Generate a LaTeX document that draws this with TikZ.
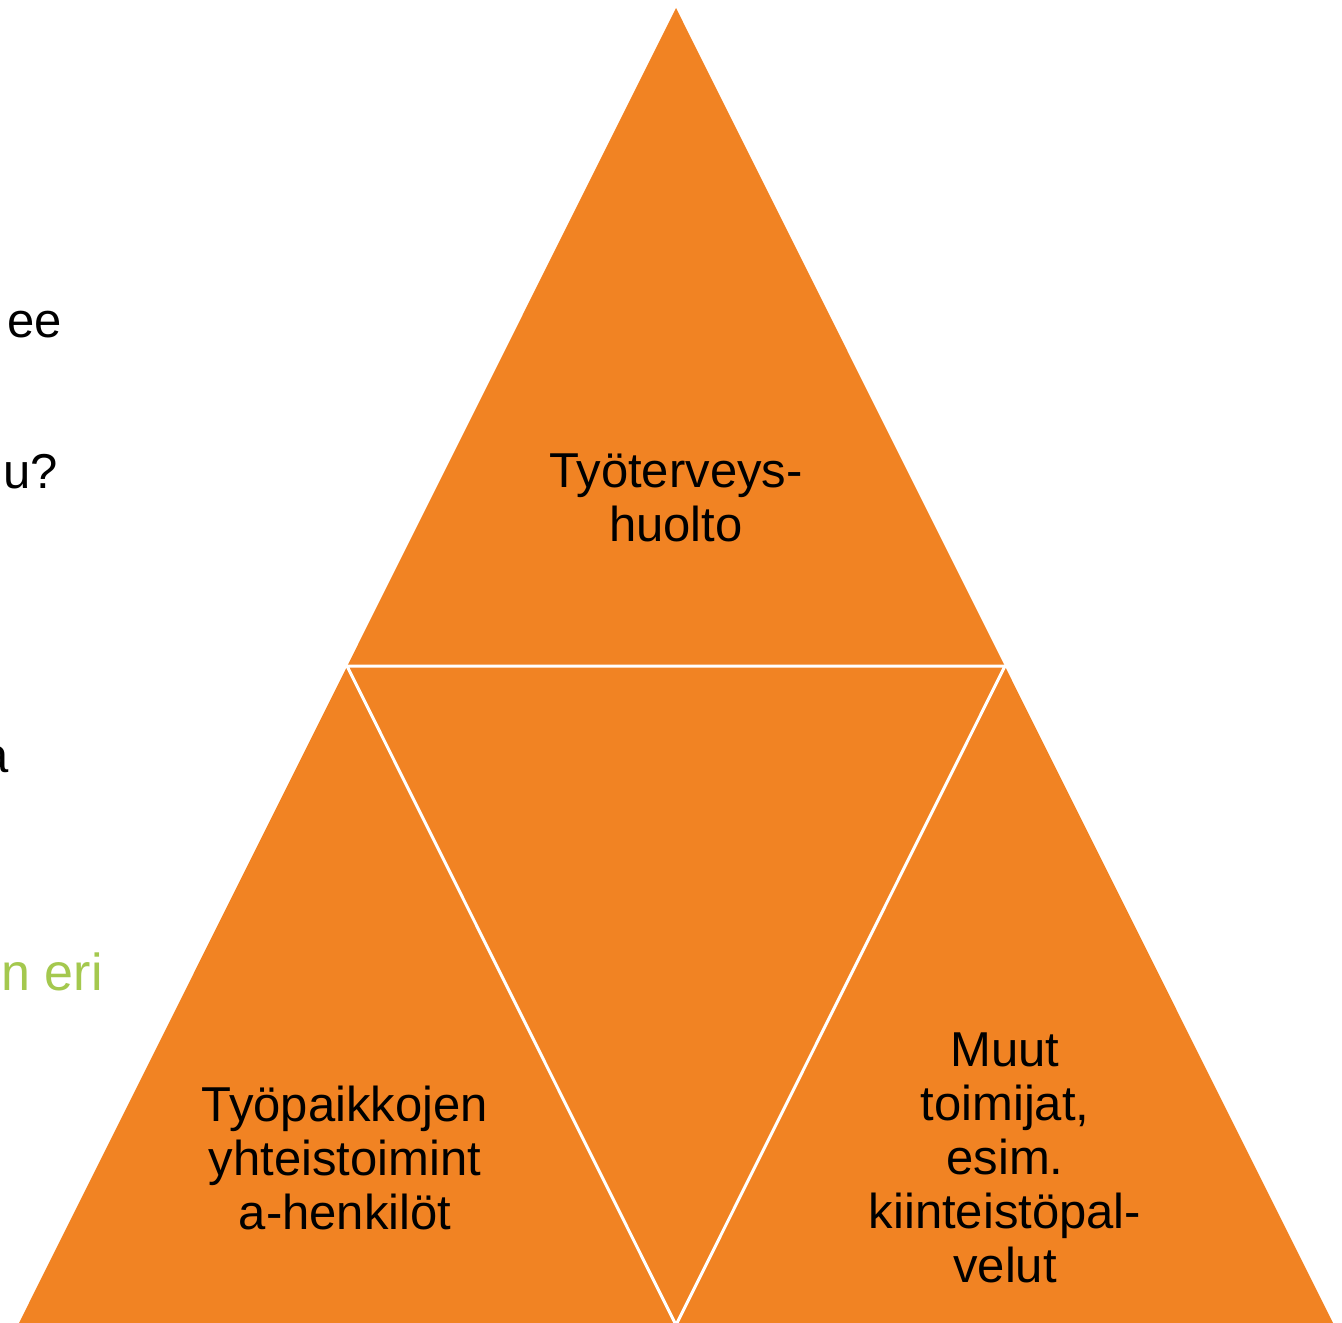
\documentclass[tikz,border=0pt]{standalone}
\usepackage{fontspec}
\setmainfont{Liberation Sans}
\definecolor{orng}{HTML}{F18323}
\definecolor{grn}{HTML}{A4C84E}
\begin{document}
\begin{tikzpicture}[x=1pt,y=-1pt,
  tri/.style={fill=orng},
  sep/.style={draw=white,line width=3pt,line join=miter},
  lbl/.style={align=center,font=\fontsize{49}{54}\selectfont,text=black,inner sep=0pt},
  side/.style={font=\fontsize{49}{54}\selectfont,inner sep=0pt,anchor=base east}]
\useasboundingbox (0,0) rectangle (1342,1323);
\clip (0,0) rectangle (1342,1323);
\coordinate (A) at (676,8);
\coordinate (L) at (347,666);
\coordinate (R) at (1005,666);
\coordinate (BL) at (18,1325);
\coordinate (BM) at (676,1325);
\coordinate (BR) at (1334,1325);
\fill[tri] (A) -- (BL) -- (BR) -- cycle;
\draw[sep] (L) -- (R) -- (BM) -- cycle;
\node[lbl] (top) at (676,498) {Työterveys-\\huolto};
\node[lbl] (left) at (345,1158) {Työpaikkojen\\yhteistoimint\\a-henkilöt};
\node[lbl] (right) at (1005,1158) {Muut\\toimijat,\\esim.\\kiinteistöpal-\\velut};
\node[side] (s1) at (62,337) {ee};
\node[side] (s2) at (58,488) {u?};
\node[side] (s3) at (9,772) {a};
\node[side,text=grn,font=\fontsize{52}{56}\selectfont] (s4) at (103,990) {n eri};
\end{tikzpicture}
\end{document}
